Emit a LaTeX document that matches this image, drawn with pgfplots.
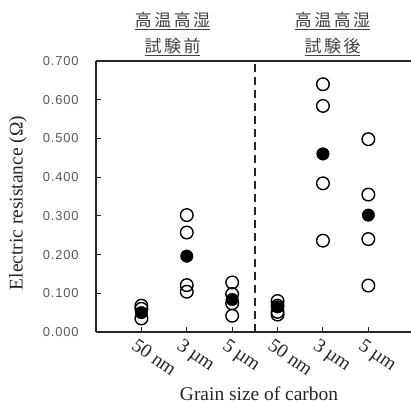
\documentclass[border=0pt]{standalone}
\usepackage{pgfplots}
\pgfplotsset{compat=1.18}
\usepackage{fontspec}
\setmainfont{Liberation Serif}
\newfontfamily\sansw[LetterSpace=6]{Liberation Sans}
\newfontfamily\cjk[LetterSpace=15]{Noto Sans CJK JP}
\definecolor{txtgray}{HTML}{404040}
\definecolor{tickgray}{HTML}{595959}
\begin{document}
\begin{tikzpicture}
\begin{axis}[
  scale only axis, width=315bp, height=271bp,
  xmin=0, xmax=6.94, ymin=0, ymax=0.7,
  clip=false,
  axis x line*=bottom, axis y line*=left,
  axis line style={line width=1.5bp, black!85, -},
  xtick={1,2,3,4,5,6},
  xticklabels={50 nm,3 µm,5 µm,50 nm,3 µm,5 µm},
  ytick={0,0.1,0.2,0.3,0.4,0.5,0.6,0.7},
  yticklabels={0.000,0.100,0.200,0.300,0.400,0.500,0.600,0.700},
  tick align=inside, major tick length=5bp,
  tick style={line width=1bp, black!85},
  yticklabel style={font=\sansw\fontsize{13}{15}\selectfont, text=tickgray, xshift=-14bp},
  xticklabel style={font=\fontsize{19.5}{22}\selectfont, rotate=-35, anchor=north west, text=black!85, xshift=-3bp, yshift=-3bp},
]
\addplot[only marks, mark=o, mark size=6.3bp, mark options={line width=1.4bp, black}] coordinates {
  (1,0.068) (1,0.060) (1,0.035)
  (2,0.302) (2,0.257) (2,0.121) (2,0.104)
  (3,0.128) (3,0.098) (3,0.074) (3,0.042)
  (4,0.080) (4,0.068) (4,0.052) (4,0.045)
  (5,0.640) (5,0.584) (5,0.384) (5,0.236)
  (6,0.498) (6,0.355) (6,0.240) (6,0.120)
};
\addplot[only marks, mark=*, mark size=6.3bp, mark options={black, fill=black}] coordinates {
  (1,0.050) (2,0.196) (3,0.084) (4,0.065) (5,0.460) (6,0.302)
};
\draw[line width=1.8bp, black!85, dash pattern=on 8bp off 5bp] (axis cs:3.5,0) -- (axis cs:3.5,0.7);
\draw[line width=1.5bp, black!85] (rel axis cs:0,1) -- (rel axis cs:1,1);
\end{axis}
\node[align=center, text=txtgray, font=\cjk\fontsize{17}{26}\selectfont] at (76.5bp,298bp) {\underline{高温高湿}\\\underline{試験前}};
\node[align=center, text=txtgray, font=\cjk\fontsize{17}{26}\selectfont] at (236.5bp,298bp) {\underline{高温高湿}\\\underline{試験後}};
\node[rotate=90, font=\fontsize{19.5}{22}\selectfont, text=black!85] at (-78bp,129bp) {Electric resistance (Ω)};
\node[font=\fontsize{19.5}{22}\selectfont, text=black!85] at (163bp,-62bp) {Grain size of carbon};
\pgfresetboundingbox
\path[use as bounding box] (-96bp,-76bp) rectangle (315bp,332bp);
\end{tikzpicture}
\end{document}
